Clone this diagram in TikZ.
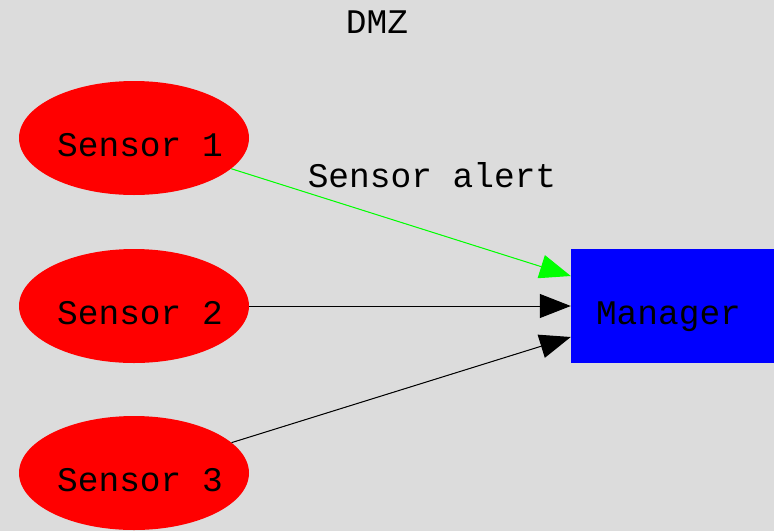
\documentclass[tikz,border=0pt]{standalone}
\usepackage{fontspec}
\setmonofont{Liberation Mono}
\usetikzlibrary{shapes.geometric,arrows.meta,calc}
\definecolor{canvas}{HTML}{DCDCDC}
\definecolor{alertgreen}{HTML}{00FF00}
\tikzset{
  lbl/.style={font=\ttfamily\fontsize{34.5}{36}\selectfont, text=black},
  sensor/.style={lbl, ellipse, fill=red, draw=none, inner ysep=0pt, inner xsep=-10pt,
    minimum width=230pt, minimum height=114pt, text height=37pt, text depth=0pt},
  mgr/.style={lbl, rectangle, fill=blue, draw=none, inner sep=0pt,
    minimum width=203pt, minimum height=114pt, text height=37pt, text depth=0pt},
  link/.style={line width=1pt, -{Triangle[length=31pt,width=24pt]}},
}
\begin{document}
\begin{tikzpicture}[x=1pt,y=-1pt]
  % canvas
  \fill[canvas] (0,0) rectangle (774,531);
  \useasboundingbox (0,0) rectangle (774,531);

  % title
  \node[lbl] (title) at (377,22) {DMZ};

  % sensors and manager (text set slightly off-centre)
  \node[sensor] (s1) at (134,138) {\hspace*{12pt}Sensor 1};
  \node[sensor] (s2) at (134,306) {\hspace*{12pt}Sensor 2};
  \node[sensor] (s3) at (134,473) {\hspace*{12pt}Sensor 3};
  \node[mgr]    (m)  at (672.5,306) {\hspace*{-8pt}Manager};

  % arrival points on the manager's left side
  \coordinate (m1) at ($(m.west)+(0,-30)$);
  \coordinate (m3) at ($(m.west)+(0,31)$);

  % connectors
  \draw[link, draw=alertgreen, fill=alertgreen] (s1) -- (m1);
  \draw[link, draw=black, fill=black] (s2) -- (m.west);
  \draw[link, draw=black, fill=black] (s3) -- (m3);

  % edge label
  \node[lbl] (alert) at (432,175) {Sensor alert};
\end{tikzpicture}
\end{document}
